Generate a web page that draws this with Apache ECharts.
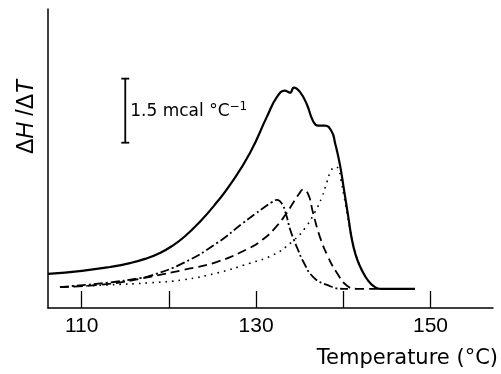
<!DOCTYPE html>
<html>
<head>
<meta charset="utf-8">
<script src="https://cdn.jsdelivr.net/npm/echarts@6/dist/echarts.min.js"></script>
<style>
  html, body { margin: 0; padding: 0; background: #fff; }
  #chart { width: 501px; height: 374px; }
</style>
</head>
<body>
<div id="chart"></div>
<script>
// values: temperature (°C) vs ΔH/ΔT (mcal °C⁻¹ above the x axis)
const totalT = [106.14, 110.03, 113.25, 115.54, 117.26, 118.98, 120.36, 121.85, 123.57, 125.52, 127.01, 129.30, 131.25, 132.40, 133.31, 133.89, 134.35, 135.03, 135.84, 136.53, 137.10, 137.90, 138.70, 139.05, 139.62, 140.08, 140.54, 141.00, 141.46, 141.91, 142.49, 143.06, 143.64, 144.21, 148.22];
const totalH = [0.80, 0.87, 0.96, 1.05, 1.15, 1.29, 1.45, 1.68, 2.02, 2.48, 2.88, 3.63, 4.48, 4.94, 5.09, 5.04, 5.16, 5.06, 4.76, 4.38, 4.27, 4.27, 4.12, 3.87, 3.35, 2.77, 2.18, 1.59, 1.22, 0.98, 0.75, 0.59, 0.49, 0.45, 0.45];

// dash-dot component
const comp1T = [107.51, 112.90, 116.69, 117.83, 121.62, 125.52, 128.50, 129.88, 131.02, 131.83, 132.40, 132.97, 133.43, 133.89, 134.35, 134.81, 135.38, 136.53, 138.13, 139.97, 140.54];
const comp1H = [0.49, 0.59, 0.70, 0.75, 1.05, 1.52, 1.99, 2.20, 2.37, 2.48, 2.53, 2.44, 2.20, 1.85, 1.59, 1.36, 1.10, 0.73, 0.54, 0.45, 0.45];

// dashed component
const comp2T = [107.51, 112.90, 117.83, 121.62, 125.52, 129.30, 130.68, 132.17, 133.43, 134.24, 134.92, 135.38, 135.96, 136.53, 137.33, 138.25, 139.28, 140.43, 141.57, 144.21];
const comp2H = [0.49, 0.56, 0.73, 0.89, 1.08, 1.41, 1.59, 1.87, 2.20, 2.46, 2.67, 2.77, 2.67, 2.23, 1.66, 1.20, 0.82, 0.52, 0.45, 0.45];

// dotted component
const comp3T = [107.51, 112.90, 117.83, 121.62, 125.52, 129.30, 131.94, 134.12, 135.61, 136.76, 137.56, 138.13, 138.59, 139.05, 139.39, 139.74, 140.08, 140.43, 140.77, 141.23, 141.91, 142.49, 143.06, 143.98];
const comp3H = [0.49, 0.54, 0.59, 0.66, 0.82, 1.05, 1.24, 1.55, 1.87, 2.25, 2.60, 2.95, 3.21, 3.30, 3.28, 3.00, 2.62, 2.23, 1.85, 1.41, 0.98, 0.75, 0.59, 0.45];

const tickValues = [110, 120, 130, 140, 150];
const labelValues = [110, 130, 150];

// scale bar: x position, bottom, span (mcal °C⁻¹)
const scaleX = 115;
const scaleBottom = 3.87;
const scaleSpan = 1.5;

const zip = (xs, ys) => xs.map((x, i) => [x, ys[i]]);

const chart = echarts.init(document.getElementById("chart"));

const curve = (data, width, type) => ({
  type: "line",
  data,
  showSymbol: false,
  smooth: 0.5,
  silent: true,
  lineStyle: { color: "#000", width, type },
});

chart.setOption({
  animation: false,
  backgroundColor: "#fff",
  grid: { left: 48, right: 8, top: 9, bottom: 66 },
  xAxis: {
    type: "value",
    min: 106.14,
    max: 157.17,
    axisLine: { lineStyle: { color: "#000", width: 1.5 } },
    axisTick: {
      show: true,
      inside: true,
      length: 17,
      customValues: tickValues,
      lineStyle: { color: "#000", width: 1.3 },
    },
    axisLabel: {
      customValues: labelValues,
      color: "#000",
      fontSize: 21,
      fontFamily: "Liberation Sans",
      margin: 8,
    },
    splitLine: { show: false },
  },
  yAxis: {
    type: "value",
    min: 0,
    max: 7,
    axisLine: { show: true, lineStyle: { color: "#000", width: 1.5 } },
    axisTick: { show: false },
    axisLabel: { show: false },
    splitLine: { show: false },
  },
  graphic: [
    {
      type: "text",
      x: 27,
      y: 117,
      rotation: Math.PI / 2,
      style: {
        text: "{n|Δ}{i|H}{n| /Δ}{i|T}",
        align: "center",
        verticalAlign: "middle",
        fill: "#000",
        rich: {
          n: { fontSize: 23, fontFamily: "Liberation Sans", fill: "#000" },
          i: { fontSize: 23, fontFamily: "Liberation Sans", fontStyle: "italic", fill: "#000" },
        },
      },
    },
    {
      type: "text",
      x: 498,
      y: 359,
      style: {
        text: "Temperature (°C)",
        align: "right",
        verticalAlign: "middle",
        fontSize: 21,
        fontFamily: "DejaVu Sans",
        fill: "#000",
      },
    },
  ],
  series: [
    curve(zip(totalT, totalH), 2.2, "solid"),
    curve(zip(comp1T, comp1H), 1.8, [9, 3, 2, 3]),
    curve(zip(comp2T, comp2H), 1.8, [9, 5]),
    curve(zip(comp3T, comp3H), 1.6, [1.6, 5]),
    {
      type: "custom",
      silent: true,
      data: [[scaleX, scaleBottom, scaleSpan]],
      renderItem: (params, api) => {
        const lo = api.coord([api.value(0), api.value(1)]);
        const hi = api.coord([api.value(0), api.value(1) + api.value(2)]);
        const ln = { stroke: "#000", lineWidth: 1.8 };
        return {
          type: "group",
          children: [
            { type: "line", shape: { x1: lo[0], y1: lo[1], x2: hi[0], y2: hi[1] }, style: ln },
            { type: "line", shape: { x1: lo[0] - 4, y1: lo[1], x2: lo[0] + 4, y2: lo[1] }, style: ln },
            { type: "line", shape: { x1: hi[0] - 4, y1: hi[1], x2: hi[0] + 4, y2: hi[1] }, style: ln },
            {
              type: "text",
              x: lo[0] + 5,
              y: (lo[1] + hi[1]) / 2 + 1,
              style: {
                text: "{t|1.5 mcal °C}{s|−1}",
                verticalAlign: "middle",
                rich: {
                  t: { fontSize: 17, fontFamily: "DejaVu Sans", fill: "#000" },
                  s: { fontSize: 12, fontFamily: "DejaVu Sans", fill: "#000", verticalAlign: "top", padding: [0, 0, 10, 0] },
                },
              },
            },
          ],
        };
      },
    },
  ],
});
</script>
</body>
</html>
